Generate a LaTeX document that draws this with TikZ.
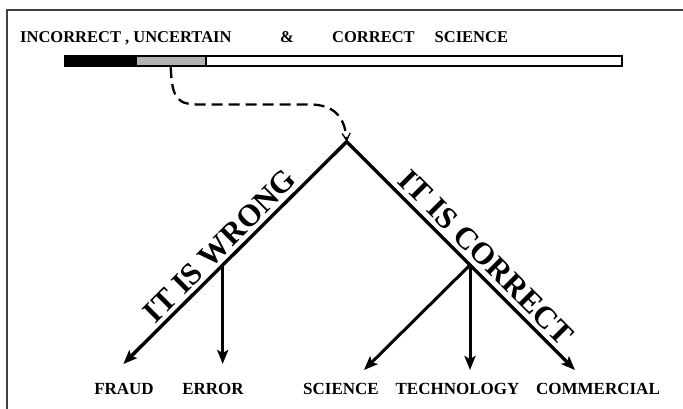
\documentclass[tikz,border=0pt]{standalone}
\usepackage{fontspec}
\setmainfont{Liberation Serif}
\usetikzlibrary{arrows.meta}
\begin{document}
\begin{tikzpicture}[x=1pt,y=-1pt,
  tip/.tip={Stealth[length=14pt,width=11pt,inset=3pt]},
  mainline/.style={line width=3.4pt,line join=miter},
  branch/.style={line width=3pt,-tip},
  frame/.style={line width=1.6pt,draw=black!75},
  title/.style={font=\fontsize{16.5}{19}\selectfont\bfseries,anchor=base west,inner sep=0pt},
  lab/.style={font=\fontsize{17}{20}\selectfont\bfseries,anchor=base,inner sep=0pt},
  slant/.style={font=\fontsize{31}{36}\selectfont\bfseries,anchor=base,inner sep=0pt},
  dashconn/.style={line width=2.3pt,dash pattern=on 11pt off 6pt,-{Straight Barb[length=7pt,width=8pt,line width=1.4pt]}}
]
\useasboundingbox (0,0) rectangle (683,408);
\fill[white] (0,0) rectangle (683,408);
% frame
\draw[frame] (7,412) -- (7,10) -- (690,10);
% title
\node[title] (t1) at (20,42) {INCORRECT , UNCERTAIN};
\node[title] (t2) at (280,42) {\&};
\node[title] (t3) at (332,42) {CORRECT\hspace{20pt}SCIENCE};
% bar
\fill[black] (65,56) rectangle (137,66);
\fill[black!30] (137,56) rectangle (205,66);
\draw[line width=1.6pt] (65,56) rectangle (622,66);
\draw[line width=2.2pt] (206,56) -- (206,66);
\coordinate (dstart) at (170.7,67);
% tree points
\coordinate (apex) at (346.7,141.7);
\coordinate (wsplit) at (222.7,265);
\coordinate (csplit) at (470,265);
\coordinate (fraudtip) at (123.3,364);
\coordinate (errtip) at (222.7,364);
\coordinate (scitip) at (364,370);
\coordinate (techtip) at (470,370);
\coordinate (comtip) at (575,370);
% dashed connector
\draw[dashconn] (dstart) .. controls (172,100) and (178,104.5) .. (200,104.5)
  -- (310,104.5) .. controls (333,104.5) and (345,116) .. (apex);
% main lines
\draw[mainline,tip-tip] (fraudtip) -- (apex) -- (comtip);
\draw[branch] (wsplit) -- (errtip);
\draw[branch] (csplit) -- (scitip);
\draw[branch] (csplit) -- (techtip);
% slanted labels
\node[slant,rotate=45] (wrong) at (226.8,253.1) {IT IS WRONG};
\node[slant,rotate=-45] (correct) at (478.9,264.5) {IT IS CORRECT};
% bottom labels
\node[lab] (fraud) at (124,394) {FRAUD};
\node[lab] (error) at (213,394) {ERROR};
\node[lab] (science) at (341,394) {SCIENCE};
\node[lab] (tech) at (457.5,394) {TECHNOLOGY};
\node[lab] (comm) at (598,394) {COMMERCIAL};
\end{tikzpicture}
\end{document}
